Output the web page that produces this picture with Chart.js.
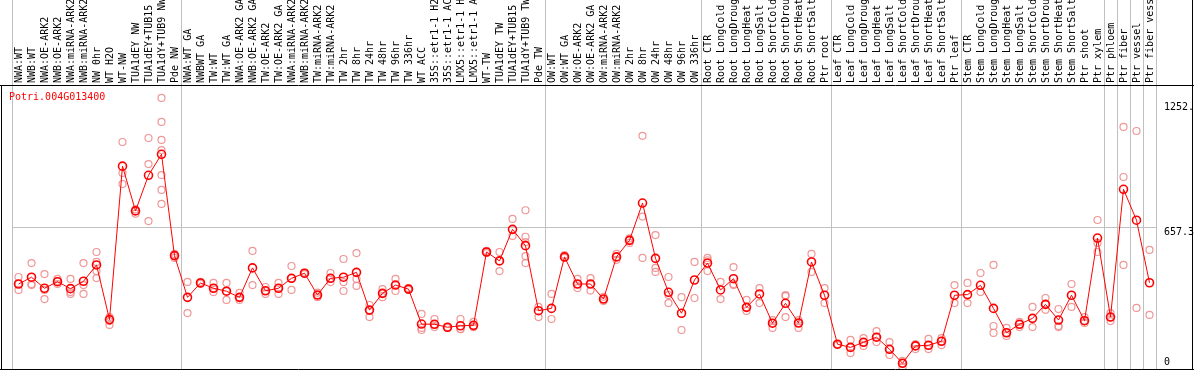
<!DOCTYPE html>
<html>
<head>
<meta charset="utf-8">
<script src="https://cdn.jsdelivr.net/npm/chart.js@4.4.1/dist/chart.umd.min.js"></script>
<style>
  html, body { margin:0; padding:0; background:#fff; }
  #wrap { width:1194px; height:370px; }
</style>
</head>
<body>
<div id="wrap"><canvas id="chart" width="1194" height="370"></canvas></div>
<script>
const geneId = 'Potri.004G013400';

const samples = [
  'NWA:WT', 'NWB:WT', 'NWA:OE-ARK2', 'NWB:OE-ARK2', 'NWA:miRNA-ARK2', 'NWB:miRNA-ARK2', 'NW 0hr',
  'WT H2O', 'WT-NW', 'TUA1dEY NW', 'TUA1dEY+TUB15 NW', 'TUA1dY+TUB9 NW', 'Pde NW',
  'NWA:WT GA', 'NWBWT GA', 'TW:WT', 'TW:WT GA', 'NWA:OE-ARK2 GA', 'NWB:OE-ARK2 GA', 'TW:OE-ARK2',
  'TW:OE-ARK2 GA', 'NWA:miRNA-ARK2', 'NWB:miRNA-ARK2', 'TW:miRNA-ARK2', 'TW:miRNA-ARK2',
  'TW 2hr', 'TW 8hr', 'TW 24hr', 'TW 48hr', 'TW 96hr', 'TW 336hr', 'WT ACC',
  '35S::etr1-1 H2O', '35S::etr1-1 ACC', 'LMX5::etr1-1 H2O', 'LMX5::etr1-1 ACC',
  'WT-TW', 'TUA1dEY TW', 'TUA1dEY+TUB15 TW', 'TUA1dY+TUB9 TW', 'Pde TW',
  'OW:WT', 'OW:WT GA', 'OW:OE-ARK2', 'OW:OE-ARK2 GA', 'OW:miRNA-ARK2', 'OW:miRNA-ARK2',
  'OW 2hr', 'OW 8hr', 'OW 24hr', 'OW 48hr', 'OW 96hr', 'OW 336hr',
  'Root CTR', 'Root LongCold', 'Root LongDrought', 'Root LongHeat', 'Root LongSalt',
  'Root ShortCold', 'Root ShortDrought', 'Root ShortHeat', 'Root ShortSalt', 'Ptr root',
  'Leaf CTR', 'Leaf LongCold', 'Leaf LongDrought', 'Leaf LongHeat', 'Leaf LongSalt',
  'Leaf ShortCold', 'Leaf ShortDrought', 'Leaf ShortHeat', 'Leaf ShortSalt', 'Ptr leaf',
  'Stem CTR', 'Stem LongCold', 'Stem LongDrought', 'Stem LongHeat', 'Stem LongSalt',
  'Stem ShortCold', 'Stem ShortDrought', 'Stem ShortHeat', 'Stem ShortSalt', 'Ptr shoot',
  'Ptr xylem', 'Ptr phloem', 'Ptr fiber', 'Ptr vessel', 'Ptr fiber vessel'
];

// mean expression per sample
const meanValues = [
  393, 425, 373, 404, 371, 406, 483, 225, 949, 738, 906, 1005, 527,
  330, 398, 373, 359, 330, 469, 361, 373, 420, 444, 341, 420, 425, 448, 270, 349, 388, 369,
  204, 203, 189, 196, 198, 544, 502, 651, 574, 267,
  278, 521, 393, 393, 322, 521, 599, 775, 514, 354, 255, 412,
  492, 365, 418, 283, 346, 208, 302, 209, 497, 340,
  109, 94, 118, 142, 85, 19, 101, 104, 123, 340,
  343, 387, 278, 163, 203, 231, 297, 223, 340, 220, 610,
  237, 840, 694, 399
];

// individual replicates per sample
const replicates = [
  [426, 393, 365], [492, 393, 388], [440, 365, 322], [417, 407, 393], [417, 355, 346],
  [492, 388, 346], [544, 497, 454, 421], [237, 218, 200], [1063, 917, 865], [745, 738, 725],
  [1082, 959, 690], [1271, 1158, 1073, 1025, 907, 837, 771], [535, 527, 516],
  [403, 256], [403, 398, 393], [398, 373, 355], [398, 359, 318], [351, 330, 318],
  [549, 388], [379, 361, 346], [398, 373, 346], [478, 420, 365], [447, 444, 440],
  [352, 341, 331], [445, 420, 402], [511, 402, 360], [539, 417, 384], [294, 270, 237],
  [369, 349, 331], [417, 388, 360], [374, 369, 365], [252, 186, 176], [228, 203, 190],
  [190, 189, 186], [228, 181, 180], [214, 190, 190], [549, 544, 539], [544, 502, 454],
  [700, 620], [741, 616, 591, 525, 492], [285, 237],
  [346, 228], [530, 521, 516], [417, 393, 374], [421, 393, 362], [333, 322, 313],
  [535, 521, 507], [608, 599, 587], [1092, 711, 516], [624, 469, 450], [426, 341, 303],
  [331, 176], [497, 327],
  [516, 505, 454], [403, 322], [473, 393, 388], [318, 283, 266], [374, 303],
  [223, 208, 186], [341, 336, 237], [223, 209, 186], [535, 450], [374, 303],
  [110, 109, 105], [129, 94, 67], [138, 118, 101], [171, 142, 119], [119, 85, 58],
  [30, 19, 1], [110, 101, 86], [134, 104, 86], [138, 123, 105], [388, 303],
  [398, 303], [445, 355], [483, 195, 162], [186, 163, 148], [214, 203, 190],
  [285, 190], [327, 297, 271], [275, 195, 190], [393, 285], [237, 220, 209], [695, 587, 544],
  [256, 237, 218], [1134, 898, 483], [1115, 280], [554, 247]
];

const yTickValues = [0, 657.3, 1252];
const yTickLabels = ['0', '657.3', '1252.'];
// category index where a gray separator line is drawn
const groupStarts = [0, 13, 41, 53, 63, 73, 84, 85, 86, 87, 88];

const yMin = -8, yMax = 1332;
const plotHeight = 284;
const labelNudge = [-5, 4, 5]; // px, labels sit a bit off their tick

Chart.defaults.font.family = '"DejaVu Sans Mono", monospace';
Chart.defaults.font.size = 10;
Chart.defaults.color = '#000';

const maxReps = Math.max(...replicates.map(r => r.length));
const repSets = [];
for (let j = 0; j < maxReps; j++) {
  repSets.push({
    label: 'rep ' + (j + 1),
    data: replicates.map(r => (r[j] !== undefined ? r[j] : null)),
    showLine: false,
    pointRadius: 3.5,
    pointBorderWidth: 1.2,
    pointBorderColor: 'rgba(238,140,140,0.9)',
    pointBackgroundColor: 'rgba(0,0,0,0)'
  });
}

const noPad = s => { s.paddingTop = 0; s.paddingBottom = 0; s.paddingLeft = 0; s.paddingRight = 0; };

const frame = {
  id: 'frame',
  afterDraw(chart) {
    const c = chart.ctx;
    c.save();
    c.strokeStyle = '#000';
    c.lineWidth = 1;
    c.beginPath();
    c.moveTo(0, 85.5); c.lineTo(1194, 85.5);
    c.moveTo(1.5, 85); c.lineTo(1.5, 370);
    c.moveTo(0, 369.5); c.lineTo(1194, 369.5);
    c.moveTo(1192.5, 0); c.lineTo(1192.5, 370);
    c.stroke();
    c.fillStyle = '#ff0000';
    c.font = '10px "DejaVu Sans Mono"';
    c.textBaseline = 'middle';
    c.fillText(geneId, 9, 97);
    c.restore();
  }
};

new Chart(document.getElementById('chart'), {
  type: 'line',
  data: {
    labels: samples,
    datasets: [{
      label: geneId,
      data: meanValues,
      borderColor: '#ff0000',
      borderWidth: 1,
      tension: 0,
      pointRadius: 4,
      pointBorderWidth: 1.6,
      pointBorderColor: '#ff0000',
      pointBackgroundColor: 'rgba(0,0,0,0)'
    }, ...repSets]
  },
  options: {
    responsive: false,
    animation: false,
    layout: { autoPadding: false, padding: { left: 12, right: 0, top: 0, bottom: 1 } },
    plugins: { legend: { display: false }, tooltip: { enabled: false } },
    scales: {
      x: {
        type: 'category',
        position: 'top',
        offset: true,
        border: { display: false },
        grid: {
          offset: true,
          tickLength: 85,
          lineWidth: 1,
          color: ctx => (ctx.index === undefined || groupStarts.includes(ctx.index)) ? '#c0c0c0' : 'rgba(0,0,0,0)'
        },
        ticks: {
          autoSkip: false,
          minRotation: 90,
          maxRotation: 90,
          padding: -83,
          labelOffset: 13,
          color: '#000'
        },
        afterFit: s => { s.height = 85; noPad(s); }
      },
      y: {
        position: 'right',
        min: yMin,
        max: yMax,
        weight: 0,
        border: { display: false },
        grid: { color: '#c0c0c0', drawTicks: false },
        ticks: { display: false },
        afterBuildTicks: s => { s.ticks = [{ value: yTickValues[1] }]; },
        afterFit: s => { s.width = 0; noPad(s); }
      },
      yLabels: {
        position: 'right',
        min: yMin,
        max: yMax,
        weight: 1,
        border: { display: false },
        grid: { display: false, drawTicks: false },
        ticks: {
          padding: 8,
          color: '#000',
          callback: (v, i) => yTickLabels[i]
        },
        afterBuildTicks: s => {
          s.ticks = yTickValues.map((v, i) => ({ value: v - labelNudge[i] * (yMax - yMin) / plotHeight }));
        },
        afterFit: s => { s.width = 38; noPad(s); }
      }
    }
  },
  plugins: [frame]
});
</script>
</body>
</html>
